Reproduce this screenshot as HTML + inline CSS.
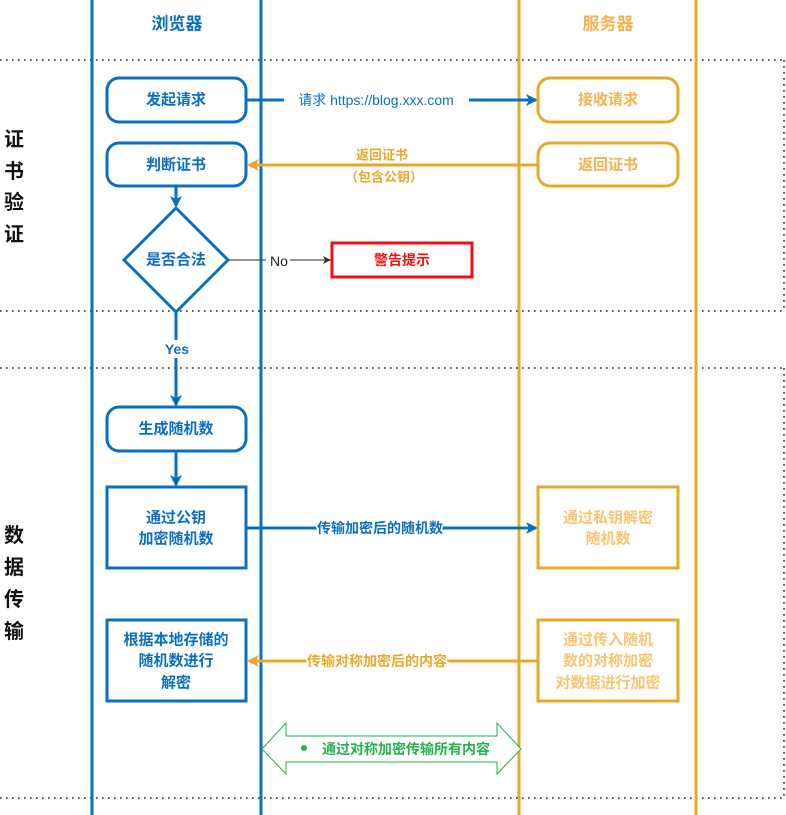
<!DOCTYPE html>
<html><head><meta charset="utf-8"><style>
html,body{margin:0;padding:0;background:#fff;width:786px;height:815px;overflow:hidden}
svg{display:block}
text{font-family:"Liberation Sans","Noto Sans CJK SC",sans-serif;font-weight:bold;text-anchor:middle;dominant-baseline:central}
</style></head><body>
<svg width="786" height="815" viewBox="0 0 786 815" xmlns="http://www.w3.org/2000/svg">
<defs>
<marker id="ab" markerWidth="12" markerHeight="12" refX="10" refY="6" orient="auto" markerUnits="userSpaceOnUse"><path d="M0,0 L12,6 L0,12 L3,6 Z" fill="#0a6fc2"/></marker>
<marker id="ao" markerWidth="12" markerHeight="12" refX="10" refY="6" orient="auto" markerUnits="userSpaceOnUse"><path d="M0,0 L12,6 L0,12 L3,6 Z" fill="#e6a92a"/></marker>
<marker id="ag" markerWidth="8" markerHeight="8" refX="7" refY="4" orient="auto" markerUnits="userSpaceOnUse"><path d="M0,0 L8,4 L0,8 L2,4 Z" fill="#333"/></marker>
</defs>
<g stroke="#222" stroke-width="1.6" stroke-dasharray="1.6 4.4" fill="none">
<line x1="0" y1="60" x2="786" y2="60"/>
<line x1="0" y1="311" x2="786" y2="311"/>
<line x1="0" y1="368" x2="786" y2="368"/>
<line x1="0" y1="798" x2="786" y2="798"/>
<line x1="784" y1="60" x2="784" y2="311"/>
<line x1="784" y1="368" x2="784" y2="798"/>
</g>
<g stroke-width="3">
<line x1="92" y1="0" x2="92" y2="815" stroke="#0a6fc2"/>
<line x1="261" y1="0" x2="261" y2="815" stroke="#0a6fc2"/>
<line x1="519" y1="0" x2="519" y2="815" stroke="#e6a92a"/>
<line x1="696" y1="0" x2="696" y2="815" stroke="#e6a92a"/>
</g>
<text x="177" y="24" fill="#0a6fc2" font-size="17">浏览器</text>
<text x="608" y="24" fill="#f5b14d" font-size="17">服务器</text>
<g fill="#111" font-size="20">
<text x="14" y="140">证</text><text x="14" y="172">书</text><text x="14" y="203">验</text><text x="14" y="235">证</text>
<text x="14" y="536">数</text><text x="14" y="568">据</text><text x="14" y="600">传</text><text x="14" y="632">输</text>
</g>
<line x1="246" y1="100" x2="536" y2="100" stroke="#0a6fc2" stroke-width="3" marker-end="url(#ab)"/>
<rect x="284" y="90" width="185" height="20" fill="#fff"/>
<text x="376" y="100" fill="#0a6fc2" font-size="14" style="font-weight:normal">请求 https://blog.xxx.com</text>
<line x1="538" y1="165" x2="249" y2="165" stroke="#e6a92a" stroke-width="3" marker-end="url(#ao)"/>
<rect x="350" y="148" width="75" height="12" fill="#fff"/>
<text x="382" y="155" fill="#e6a92a" font-size="13">返回证书</text>
<text x="384" y="177" fill="#e6a92a" font-size="13">（包含公钥）</text>
<line x1="176" y1="186" x2="176" y2="206" stroke="#0a6fc2" stroke-width="3" marker-end="url(#ab)"/>
<line x1="228" y1="260" x2="330" y2="260" stroke="#555" stroke-width="1.3" marker-end="url(#ag)"/>
<rect x="266" y="252" width="24" height="16" fill="#fff"/>
<text x="279" y="261" fill="#222" font-size="14" style="font-weight:normal">No</text>
<line x1="176" y1="311" x2="176" y2="405" stroke="#0a6fc2" stroke-width="3" marker-end="url(#ab)"/>
<rect x="158" y="340" width="38" height="18" fill="#fff"/>
<text x="177" y="349" fill="#0a6fc2" font-size="14">Yes</text>
<line x1="176" y1="451" x2="176" y2="485" stroke="#0a6fc2" stroke-width="3" marker-end="url(#ab)"/>
<line x1="246" y1="528" x2="536" y2="528" stroke="#0a6fc2" stroke-width="3" marker-end="url(#ab)"/>
<text x="380" y="528" fill="#0a6fc2" font-size="14" stroke="#fff" stroke-width="3" paint-order="stroke">传输加密后的随机数</text>
<line x1="538" y1="661" x2="249" y2="661" stroke="#e6a92a" stroke-width="3" marker-end="url(#ao)"/>
<text x="377" y="661" fill="#e6a92a" font-size="14" stroke="#fff" stroke-width="3" paint-order="stroke">传输对称加密后的内容</text>
<g fill="#fff" stroke-width="3">
<rect x="107" y="78" width="139" height="44" rx="12" stroke="#0a6fc2"/>
<rect x="538" y="78" width="140" height="44" rx="12" stroke="#e6a92a"/>
<rect x="107" y="143" width="139" height="43" rx="12" stroke="#0a6fc2"/>
<rect x="538" y="143" width="140" height="43" rx="12" stroke="#e6a92a"/>
<path d="M176,208 L228,260 L176,312 L124,260 Z" stroke="#0a6fc2"/>
<rect x="332" y="243" width="140" height="34" stroke="#ee1111"/>
<rect x="107" y="407" width="139" height="44" rx="12" stroke="#0a6fc2"/>
<rect x="107" y="487" width="139" height="81" stroke="#0a6fc2"/>
<rect x="538" y="487" width="140" height="81" stroke="#e6a92a"/>
<rect x="107" y="620" width="139" height="81" stroke="#0a6fc2"/>
<rect x="538" y="620" width="140" height="81" stroke="#e6a92a"/>
</g>
<g font-size="15">
<text x="176" y="100" fill="#0a6fc2">发起请求</text>
<text x="608" y="100" fill="#f5b14d">接收请求</text>
<text x="176" y="165" fill="#0a6fc2">判断证书</text>
<text x="608" y="165" fill="#f5b14d">返回证书</text>
<text x="176" y="260" fill="#0a6fc2">是否合法</text>
<text x="402" y="260" fill="#ee1111" font-size="14">警告提示</text>
<text x="176" y="429" fill="#0a6fc2">生成随机数</text>
<text x="176" y="518" fill="#0a6fc2">通过公钥</text>
<text x="176" y="539" fill="#0a6fc2">加密随机数</text>
<text x="608" y="518" fill="#f8c570">通过私钥解密</text>
<text x="608" y="539" fill="#f8c570">随机数</text>
<text x="176" y="640" fill="#0a6fc2">根据本地存储的</text>
<text x="176" y="661" fill="#0a6fc2">随机数进行</text>
<text x="176" y="683" fill="#0a6fc2">解密</text>
<text x="608" y="640" fill="#f8c570">通过传入随机</text>
<text x="608" y="661" fill="#f8c570">数的对称加密</text>
<text x="608" y="683" fill="#f8c570">对数据进行加密</text>
</g>
<path d="M262,749 L286,723 L286,736 L497,736 L497,723 L521,749 L497,774 L497,762 L286,762 L286,774 Z" fill="#fff" stroke="#22b14c" stroke-width="1"/>
<circle cx="304" cy="748" r="3" fill="#22b14c"/>
<text x="406" y="749" fill="#22b14c" font-size="14">通过对称加密传输所有内容</text>
</svg>
</body></html>
